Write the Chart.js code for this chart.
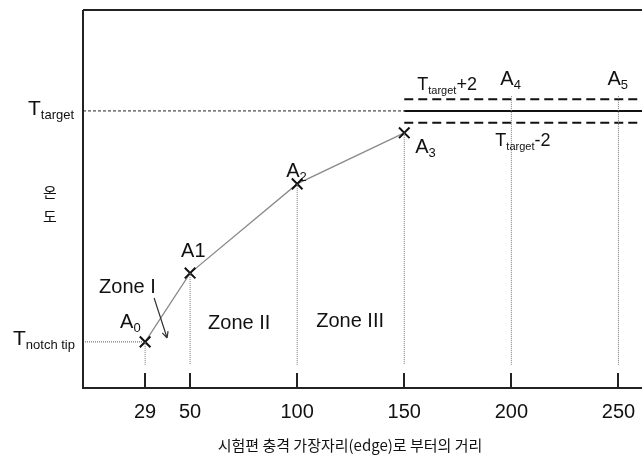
<!DOCTYPE html>
<html>
<head>
<meta charset="utf-8">
<script src="https://cdn.jsdelivr.net/npm/chart.js@4"></script>
<style>
  html, body { margin: 0; padding: 0; background: #fff; }
</style>
</head>
<body>
<canvas id="chart" width="642" height="456"></canvas>
<script>
// x positions (distance from the impact edge) and relative temperature levels
const tickValues = [29, 50, 100, 150, 200, 250];
const pointX = [29, 50, 100, 150];
const pointTemp = [12.2, 30.4, 54.0, 67.5];
const pointNames = [['A', '0'], ['A1', ''], ['A', '2'], ['A', '3']];
const holdX = [200, 250];
const holdNames = [['A', '4'], ['A', '5']];
const zoneNames = ['Zone I', 'Zone II', 'Zone III'];
const targetTemp = 73.3;
const bandHalf = 3.1;
const dropBase = 6.1;
const holdTop = 77.2;
const xMax = 261;

const LATIN = '"Liberation Sans", Arial, sans-serif';
const KOREAN = '"Noto Sans CJK KR", sans-serif';

// dotted drop lines from every point to the axis
let dropData = [];
pointX.forEach(function (x, i) {
    dropData.push({ x: x, y: pointTemp[i] }, { x: x, y: dropBase }, { x: x, y: null });
});
holdX.forEach(function (x) {
    dropData.push({ x: x, y: holdTop }, { x: x, y: dropBase }, { x: x, y: null });
});

const lastX = pointX[pointX.length - 1];

const datasets = [
    {
        data: dropData,
        borderColor: '#777',
        borderWidth: 1,
        borderDash: [1, 1],
        pointRadius: 0,
        spanGaps: false
    },
    {
        data: [{ x: 0, y: targetTemp }, { x: lastX, y: targetTemp }],
        borderColor: '#222',
        borderWidth: 1,
        borderDash: [3, 2],
        pointRadius: 0
    },
    {
        data: [{ x: 0, y: pointTemp[0] }, { x: pointX[0], y: pointTemp[0] }],
        borderColor: '#555',
        borderWidth: 1,
        borderDash: [1, 1],
        pointRadius: 0
    },
    {
        data: [{ x: lastX, y: targetTemp }, { x: xMax, y: targetTemp }],
        borderColor: '#111',
        borderWidth: 2,
        pointRadius: 0
    },
    {
        data: [{ x: lastX, y: targetTemp + bandHalf }, { x: xMax, y: targetTemp + bandHalf }],
        borderColor: '#111',
        borderWidth: 2,
        borderDash: [9, 5],
        pointRadius: 0
    },
    {
        data: [{ x: lastX, y: targetTemp - bandHalf }, { x: xMax, y: targetTemp - bandHalf }],
        borderColor: '#111',
        borderWidth: 2,
        borderDash: [9, 5],
        pointRadius: 0
    },
    {
        data: pointX.map(function (x, i) { return { x: x, y: pointTemp[i] }; }),
        borderColor: '#8a8a8a',
        borderWidth: 1.3,
        pointStyle: 'crossRot',
        pointRadius: 7.5,
        pointBorderColor: '#111',
        pointBorderWidth: 2,
        pointBackgroundColor: '#111'
    }
];

function subText(ctx, x, y, main, sub, tail, size, subSize) {
    ctx.font = size + 'px ' + LATIN;
    ctx.fillText(main, x, y);
    let w = ctx.measureText(main).width;
    if (sub) {
        ctx.font = subSize + 'px ' + LATIN;
        ctx.fillText(sub, x + w, y + size * 0.2);
        w += ctx.measureText(sub).width;
    }
    if (tail) {
        ctx.font = size + 'px ' + LATIN;
        ctx.fillText(tail, x + w, y);
    }
}

const framePlugin = {
    id: 'frame',
    afterDraw: function (chart) {
        const ctx = chart.ctx;
        const area = chart.chartArea;
        const xs = chart.scales.x;
        const ys = chart.scales.y;
        ctx.save();

        // top and left border
        ctx.strokeStyle = '#222';
        ctx.lineWidth = 2;
        ctx.beginPath();
        ctx.moveTo(area.left, area.top);
        ctx.lineTo(area.right, area.top);
        ctx.moveTo(area.left, area.top);
        ctx.lineTo(area.left, area.bottom);
        ctx.stroke();

        // inward tick marks
        ctx.beginPath();
        tickValues.forEach(function (v) {
            const px = Math.round(xs.getPixelForValue(v));
            ctx.moveTo(px, area.bottom);
            ctx.lineTo(px, area.bottom - 15);
        });
        ctx.stroke();

        ctx.fillStyle = '#111';
        ctx.textBaseline = 'alphabetic';
        ctx.textAlign = 'left';

        // point labels
        const offsets = [[-25, -14], [-9, -16], [-11, -7], [11, 20]];
        pointX.forEach(function (x, i) {
            const px = xs.getPixelForValue(x);
            const py = ys.getPixelForValue(pointTemp[i]);
            subText(ctx, px + offsets[i][0], py + offsets[i][1], pointNames[i][0], pointNames[i][1], '', 20, 13);
        });
        holdX.forEach(function (x, i) {
            const px = xs.getPixelForValue(x);
            subText(ctx, px - 11, 85, holdNames[i][0], holdNames[i][1], '', 20, 13);
        });

        // target and band labels
        const yT = ys.getPixelForValue(targetTemp);
        const xL = xs.getPixelForValue(lastX);
        subText(ctx, 28, yT + 4, 'T', 'target', '', 21, 13);
        subText(ctx, 13, ys.getPixelForValue(pointTemp[0]) + 3, 'T', 'notch tip', '', 21, 13);
        subText(ctx, xL + 13, yT - 21, 'T', 'target', '+2', 18, 11);
        subText(ctx, xs.getPixelForValue(200) - 16, yT + 35, 'T', 'target', '-2', 18, 11);

        // zone labels
        ctx.font = '20px ' + LATIN;
        const x0 = xs.getPixelForValue(pointX[0]);
        ctx.fillText(zoneNames[0], x0 - 46, 293);
        ctx.fillText(zoneNames[1], xs.getPixelForValue(50) + 18, 329);
        ctx.fillText(zoneNames[2], xs.getPixelForValue(100) + 19, 327);

        // arrow from Zone I towards the first segment
        const ax1 = x0 + 9, ay1 = 298, ax2 = x0 + 22, ay2 = 338;
        ctx.strokeStyle = '#333';
        ctx.lineWidth = 1.2;
        ctx.beginPath();
        ctx.moveTo(ax1, ay1);
        ctx.lineTo(ax2, ay2);
        const ang = Math.atan2(ay2 - ay1, ax2 - ax1);
        ctx.moveTo(ax2, ay2);
        ctx.lineTo(ax2 - 7 * Math.cos(ang - 0.45), ay2 - 7 * Math.sin(ang - 0.45));
        ctx.moveTo(ax2, ay2);
        ctx.lineTo(ax2 - 7 * Math.cos(ang + 0.45), ay2 - 7 * Math.sin(ang + 0.45));
        ctx.stroke();

        // axis titles, y title stacked one syllable per line
        ctx.font = '15px ' + KOREAN;
        ctx.textAlign = 'center';
        ctx.fillText('온', 50, 198);
        ctx.fillText('도', 50, 222);
        ctx.fillText('시험편 충격 가장자리(edge)로 부터의 거리', 350, 451);

        ctx.restore();
    }
};

new Chart(document.getElementById('chart'), {
    type: 'line',
    data: { datasets: datasets },
    options: {
        responsive: false,
        animation: false,
        layout: { autoPadding: false, padding: { left: 83, top: 10, right: 0, bottom: 0 } },
        plugins: {
            legend: { display: false },
            tooltip: { enabled: false }
        },
        scales: {
            x: {
                type: 'linear',
                min: 0,
                max: xMax,
                afterBuildTicks: function (scale) {
                    scale.ticks = tickValues.map(function (v) { return { value: v }; });
                },
                afterFit: function (scale) {
                    scale.height = 68;
                    scale.paddingLeft = 0;
                    scale.paddingRight = 0;
                },
                grid: { display: false, drawTicks: false },
                border: { display: true, color: '#222', width: 2 },
                ticks: {
                    color: '#111',
                    padding: 12,
                    maxRotation: 0,
                    autoSkip: false,
                    font: { family: LATIN, size: 20 }
                }
            },
            y: {
                display: false,
                min: 0,
                max: 100
            }
        }
    },
    plugins: [framePlugin]
});
</script>
</body>
</html>
